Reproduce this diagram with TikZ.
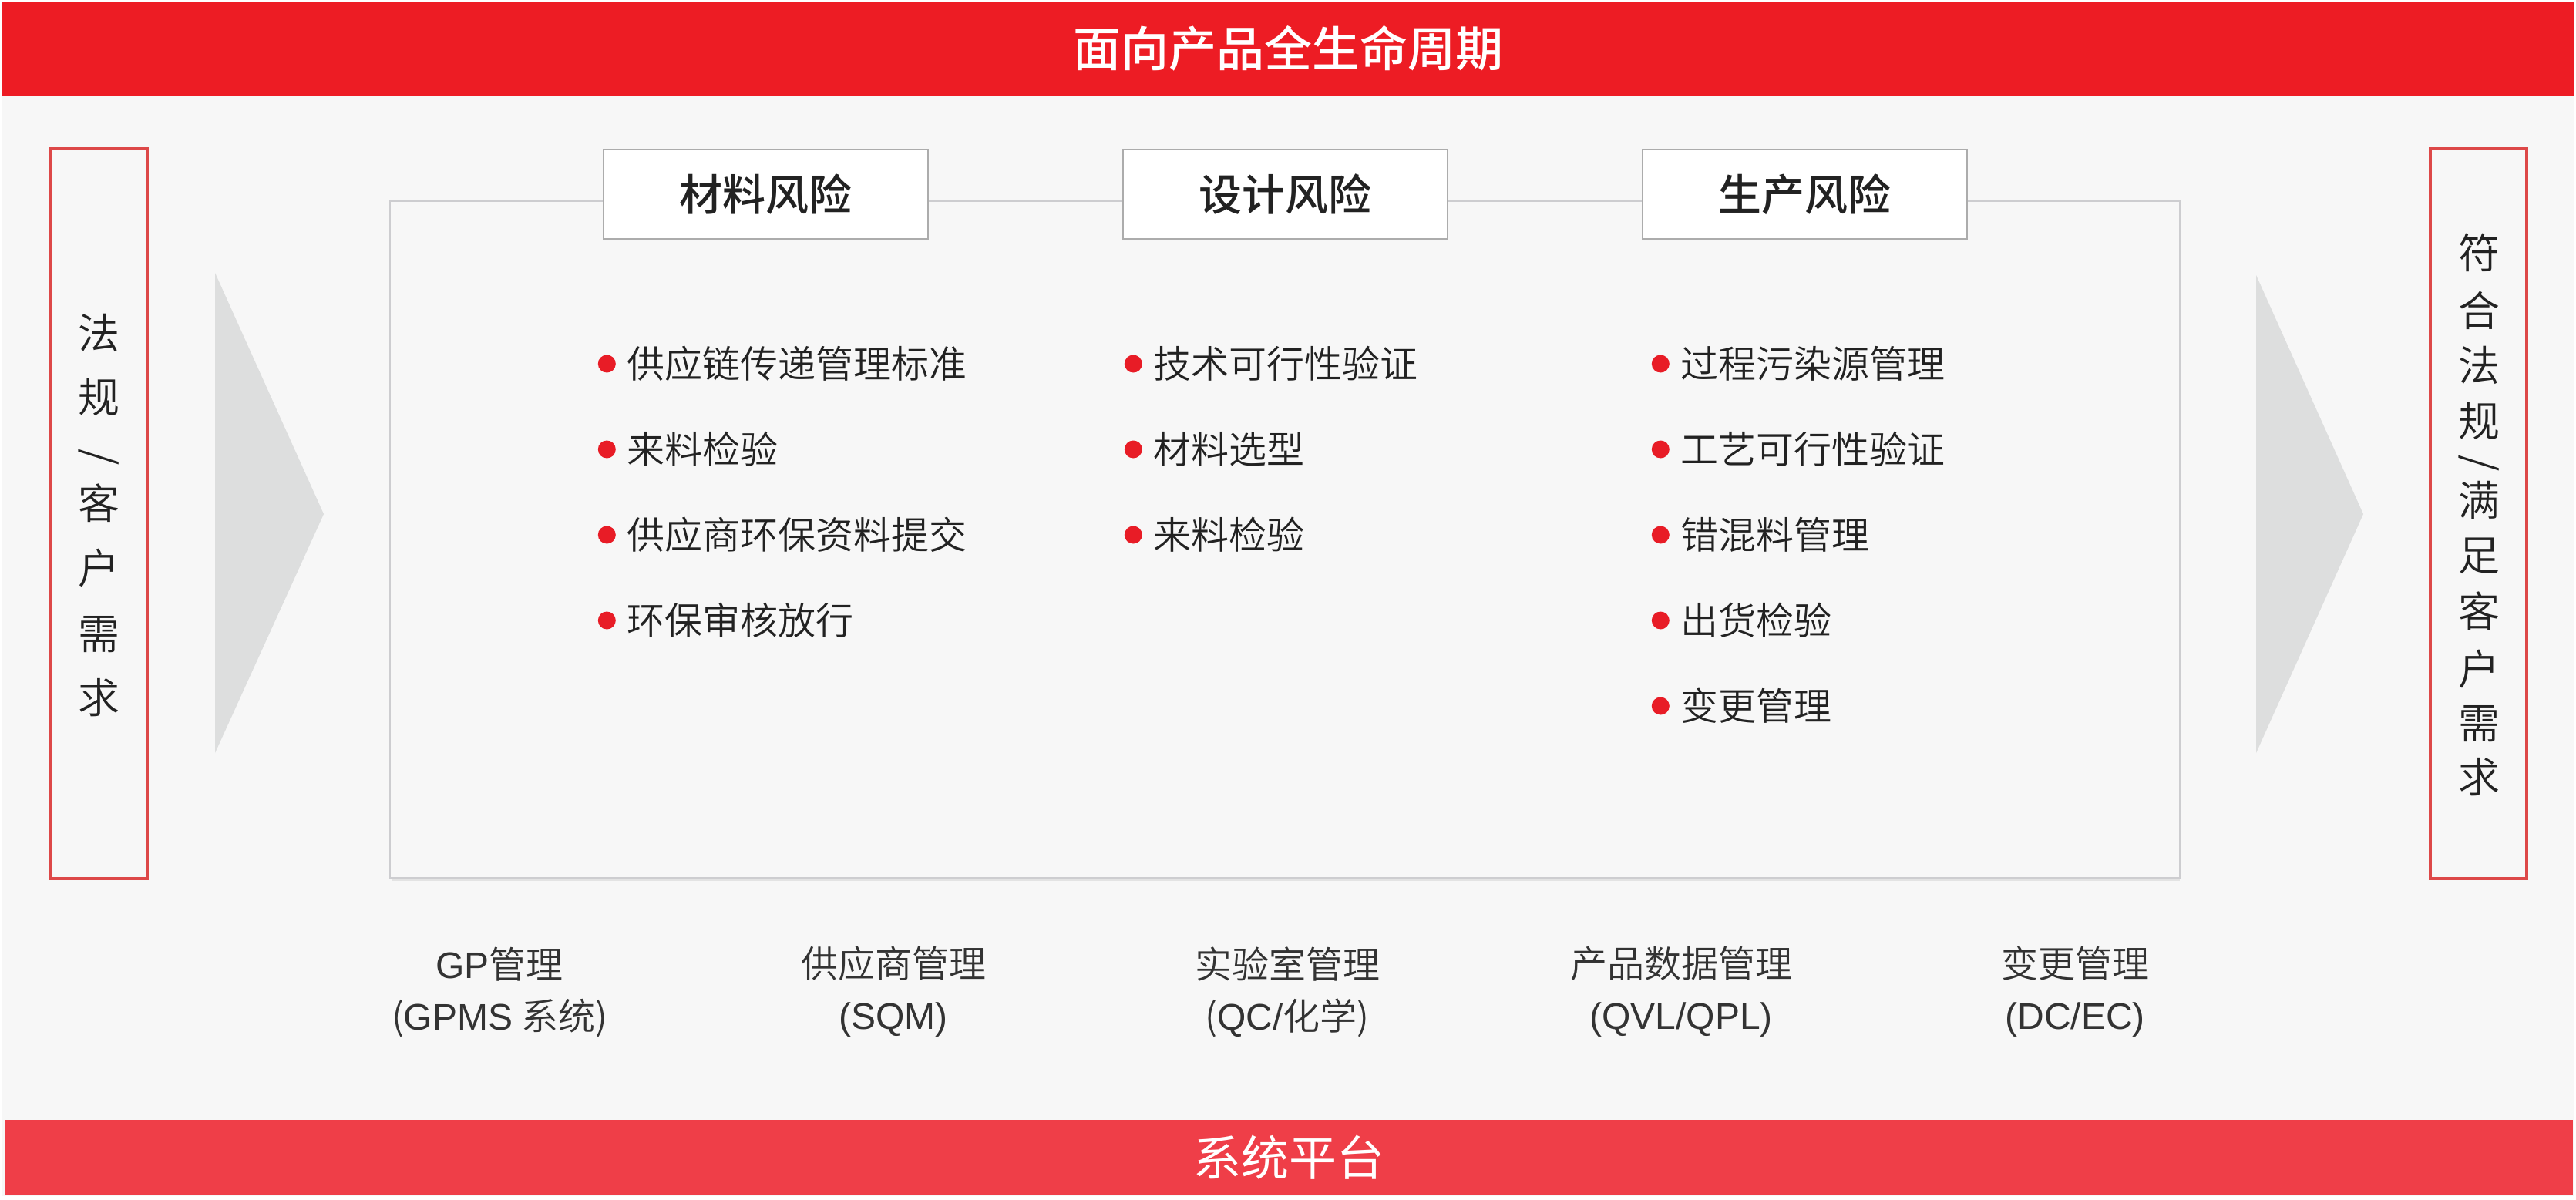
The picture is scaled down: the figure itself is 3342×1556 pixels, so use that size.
\documentclass[tikz,border=0pt]{standalone}
\usepackage{fontspec}
\setmainfont{Noto Sans CJK SC}[UprightFont=* DemiLight, BoldFont=* Medium]
\newfontfamily\regfont{Noto Sans CJK SC}
\newfontfamily\latinfont{Liberation Sans}
\usetikzlibrary{positioning}
\definecolor{barred}{RGB}{237,28,36}
\definecolor{platred}{RGB}{239,62,72}
\definecolor{bggray}{RGB}{247,247,247}
\definecolor{arrowgray}{RGB}{221,222,222}
\definecolor{panelgray}{RGB}{205,205,208}
\definecolor{headgray}{RGB}{172,172,172}
\definecolor{boxred}{RGB}{221,72,72}
\definecolor{dotred}{RGB}{232,28,38}
\definecolor{txt}{RGB}{34,34,34}
\definecolor{systxt}{RGB}{51,51,51}

\begin{document}
\begin{tikzpicture}[x=1pt, y=-1pt,
    bar/.style={rectangle, inner sep=0pt, outer sep=0pt, text=white,
      font=\fontsize{62}{62}\selectfont\bfseries},
    sidebox/.style={rectangle, draw=boxred, line width=3.5pt,
      minimum width=125pt, minimum height=947pt, inner sep=0pt},
    sidechar/.style={inner sep=0pt, text=txt, font=\fontsize{54}{54}\selectfont},
    risk/.style={rectangle, draw=headgray, line width=2pt, fill=white,
      minimum width=421pt, minimum height=116pt, inner sep=0pt, outer sep=0pt,
      text=txt, font=\fontsize{56}{56}\selectfont\bfseries},
    dot/.style={circle, fill=dotred, minimum size=23pt, inner sep=0pt},
    item/.style={anchor=west, inner sep=0pt, text=txt,
      font=\fontsize{49}{49}\selectfont,
      label={[dot, label distance=14pt]left:{}}},
    system/.style={align=center, inner sep=0pt, text=systxt,
      font=\fontsize{48}{67}\selectfont}]

    \useasboundingbox (0,0) rectangle (3342,1556);
    \fill[white] (0,0) rectangle (3342,1556);
    \fill[bggray] (2,2) rectangle (3340,1552);

    % Barras
    \node[bar, fill=barred, minimum width=3338pt, minimum height=122pt] (life) at (1671,63) {面向产品全生命周期};
    \node[bar, fill=platred, minimum width=3332pt, minimum height=97pt,
      font=\fontsize{62}{62}\regfont] (platform) at (1672,1501.5) {系统平台};

    % Entrada / salida
    \node[sidebox] (input) at (128.5,666.5) {};
    \node[sidebox] (goal) at (3215.5,666.5) {};
    \foreach \ch/\yy [count=\i] in {法/432,规/515,客/653,户/737,需/823,求/905}
      \node[sidechar] (in\i) at (128.5,\yy) {\ch};
    \node[sidechar, rotate=-90] (inslash) at (128.5,593) {/};
    \foreach \ch/\yy [count=\i] in {符/328,合/403,法/474,规/546,满/649,足/721,客/793,户/868,需/939,求/1008}
      \node[sidechar] (out\i) at (3216,\yy) {\ch};
    \node[sidechar, rotate=-90] (outslash) at (3216,601) {/};

    % Flechas
    \fill[arrowgray] (279,354) -- (420,667) -- (279,977) -- cycle;
    \fill[arrowgray] (2927,357) -- (3066,667) -- (2927,977) -- cycle;

    % Riesgos
    \draw[panelgray, line width=2pt] (506,261) rectangle (2828,1139);
    \draw[gray!22, line width=2pt] (508,1142) -- (2828,1142);
    \node[risk] (material) at (993.5,252) {材料风险};
    \node[risk, right=253pt of material] (design) {设计风险};
    \node[risk, right=253pt of design] (production) {生产风险};

    \node[item] (mat1) at (813,472) {供应链传递管理标准};
    \node[item] (mat2) at (813,583) {来料检验};
    \node[item] (mat3) at (813,694) {供应商环保资料提交};
    \node[item] (mat4) at (813,805) {环保审核放行};

    \node[item] (des1) at (1496,472) {技术可行性验证};
    \node[item] (des2) at (1496,583) {材料选型};
    \node[item] (des3) at (1496,694) {来料检验};

    \node[item] (pro1) at (2180,472) {过程污染源管理};
    \node[item] (pro2) at (2180,583) {工艺可行性验证};
    \node[item] (pro3) at (2180,694) {错混料管理};
    \node[item] (pro4) at (2180,805) {出货检验};
    \node[item] (pro5) at (2180,916) {变更管理};

    % Sistemas
    \node[system] (gp) at (648,1287) {{\latinfont GP}管理\\({\latinfont GPMS} 系统)};
    \node[system] (sqm) at (1159,1287) {供应商管理\\{\latinfont (SQM)}};
    \node[system] (lab) at (1670,1287) {实验室管理\\({\latinfont QC/}化学)};
    \node[system] (pdm) at (2181,1287) {产品数据管理\\{\latinfont (QVL/QPL)}};
    \node[system] (change) at (2692,1287) {变更管理\\{\latinfont (DC/EC)}};
  \end{tikzpicture}
\end{document}
